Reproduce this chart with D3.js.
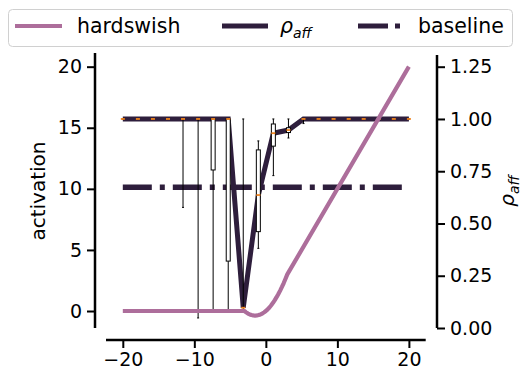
<!DOCTYPE html>
<html>
<head>
<meta charset="utf-8">
<script src="https://cdn.jsdelivr.net/npm/d3@7"></script>
<style>
  body { margin: 0; background: #fff; }
  text { font-family: "DejaVu Sans", sans-serif; fill: #000; }
</style>
</head>
<body>
<svg id="chart" width="532" height="383"></svg>
<script>
// hardswish curve (left axis)
var hsX = [-20, -3, -2.75, -2.5, -2.25, -2, -1.75, -1.5, -1.25, -1, -0.75, -0.5, -0.25, 0,
           0.25, 0.5, 0.75, 1, 1.25, 1.5, 1.75, 2, 2.25, 2.5, 2.75, 3, 20];
var hsY = [0, 0, -0.11, -0.21, -0.28, -0.33, -0.36, -0.375, -0.36, -0.33, -0.28, -0.21, -0.11, 0,
           0.135, 0.29, 0.47, 0.67, 0.89, 1.13, 1.39, 1.67, 1.97, 2.29, 2.64, 3, 20];

// rho_aff boxplots (right axis), one per position
var boxPos = [-20, -17.89, -15.79, -13.68, -11.58, -9.47, -7.37, -5.26, -3.16, -1.05,
              1.05, 3.16, 5.26, 7.37, 9.47, 11.58, 13.68, 15.79, 17.89, 20];
var medians = [1, 1, 1, 1, 1, 1, 1, 1, 0.097, 0.636, 0.932, 0.947, 1, 1, 1, 1, 1, 1, 1, 1];
var q1s     = [1, 1, 1, 1, 1, 1, 0.756, 0.32, 0.097, 0.461, 0.87, 0.935, 1, 1, 1, 1, 1, 1, 1, 1];
var q3s     = [1, 1, 1, 1, 1, 1, 1, 1, 0.097, 0.852, 0.976, 0.958, 1, 1, 1, 1, 1, 1, 1, 1];
var whisLo  = [1, 1, 1, 1, 0.577, 0.048, 0.086, 0.08, 0.08, 0.381, 0.729, 0.909, 0.978, 1, 1, 1, 1, 1, 1, 1];
var whisHi  = [1, 1, 1, 1, 1, 1, 1, 1, 1, 0.895, 1, 1, 1, 1, 1, 1, 1, 1, 1, 1];

// baseline level (right axis)
var baseX = [-20, 20];
var baseVal = 0.673;

var xTicks = [-20, -10, 0, 10, 20];
var yTicks = [0, 5, 10, 15, 20];
var y2Ticks = [0, 0.25, 0.5, 0.75, 1.0, 1.25];

// colours
var hsColour = '#ad6e9b';
var rhoColour = '#2e1e3c';
var medianColour = '#ef8420';

var svg = d3.select("#chart");

var x = d3.scaleLinear().domain([-22.35, 22.35]).range([106, 425.7]);
var y = d3.scaleLinear().domain([-1.39, 21.12]).range([328, 53]);
var y2 = d3.scaleLinear().domain([0, 1.306]).range([328, 55]);

var tickFont = 19;

// axes (spines offset outward)
var xAxis = svg.append("g").attr("transform", "translate(0,340)")
  .call(d3.axisBottom(x).tickValues(xTicks).tickSize(8).tickPadding(5)
    .tickFormat(function (d) { return d < 0 ? "\u2212" + Math.abs(d) : d; }));
var yAxis = svg.append("g").attr("transform", "translate(95,0)")
  .call(d3.axisLeft(y).tickValues(yTicks).tickSize(8).tickPadding(5));
var y2Axis = svg.append("g").attr("transform", "translate(437,0)")
  .call(d3.axisRight(y2).tickValues(y2Ticks).tickSize(8).tickPadding(5)
    .tickFormat(d3.format(".2f")));

[xAxis, yAxis, y2Axis].forEach(function (g) {
  g.select(".domain").attr("stroke", "#000").attr("stroke-width", 2.5);
  g.selectAll(".tick line").attr("stroke", "#000").attr("stroke-width", 2);
  g.selectAll(".tick text").attr("font-size", tickFont)
    .style("font-family", "DejaVu Sans, sans-serif").attr("fill", "#000");
});
// spines without end caps
xAxis.select(".domain").attr("d", "M" + x.range()[0] + ",0H" + x.range()[1]);
yAxis.select(".domain").attr("d", "M0," + y.range()[0] + "V" + y.range()[1]);
y2Axis.select(".domain").attr("d", "M0," + y2.range()[0] + "V" + y2.range()[1]);

// axis labels
svg.append("text")
  .attr("transform", "translate(45,191) rotate(-90)")
  .attr("text-anchor", "middle")
  .attr("font-size", 20)
  .text("activation");

var rlab = svg.append("text")
  .attr("transform", "translate(514,191) rotate(-90)")
  .attr("text-anchor", "middle")
  .attr("font-size", 20)
  .style("font-style", "italic");
rlab.append("tspan").text("\u03c1");
rlab.append("tspan").attr("font-size", 14).attr("dy", 5).text("aff");

// baseline, dash-dot
svg.append("path")
  .datum(baseX)
  .attr("d", d3.line().x(function (d) { return x(d); }).y(function () { return y2(baseVal); }))
  .attr("fill", "none")
  .attr("stroke", rhoColour)
  .attr("stroke-width", 5.5)
  .attr("stroke-dasharray", "29,8,5,8");

// rho_aff median line
var rhoLine = d3.line()
  .x(function (d, i) { return x(boxPos[i]); })
  .y(function (d) { return y2(d); });
svg.append("path")
  .datum(medians)
  .attr("d", rhoLine)
  .attr("fill", "none")
  .attr("stroke", rhoColour)
  .attr("stroke-width", 5)
  .attr("stroke-linejoin", "miter");

// boxplots
var bw = 0.56;
var boxes = svg.append("g").selectAll("g")
  .data(boxPos)
  .enter().append("g");

boxes.append("line")
  .attr("x1", function (d) { return x(d); })
  .attr("x2", function (d) { return x(d); })
  .attr("y1", function (d, i) { return y2(whisLo[i]); })
  .attr("y2", function (d, i) { return y2(q1s[i]); })
  .attr("stroke", "#000").attr("stroke-width", 1);
boxes.append("line")
  .attr("x1", function (d) { return x(d); })
  .attr("x2", function (d) { return x(d); })
  .attr("y1", function (d, i) { return y2(q3s[i]); })
  .attr("y2", function (d, i) { return y2(whisHi[i]); })
  .attr("stroke", "#000").attr("stroke-width", 1);
[whisLo, whisHi].forEach(function (arr) {
  boxes.append("line")
    .attr("x1", function (d) { return x(d - bw / 4); })
    .attr("x2", function (d) { return x(d + bw / 4); })
    .attr("y1", function (d, i) { return y2(arr[i]); })
    .attr("y2", function (d, i) { return y2(arr[i]); })
    .attr("stroke", "#000").attr("stroke-width", 1);
});
boxes.filter(function (d, i) { return q3s[i] > q1s[i]; })
  .append("rect")
  .attr("x", function (d) { return x(d - bw / 2); })
  .attr("width", function (d) { return x(d + bw / 2) - x(d - bw / 2); })
  .attr("y", function (d) { return y2(q3s[boxPos.indexOf(d)]); })
  .attr("height", function (d) { var i = boxPos.indexOf(d); return y2(q1s[i]) - y2(q3s[i]); })
  .attr("fill", "#fff")
  .attr("stroke", "#000").attr("stroke-width", 1);
boxes.append("line")
  .attr("x1", function (d) { return x(d - bw / 2); })
  .attr("x2", function (d) { return x(d + bw / 2); })
  .attr("y1", function (d, i) { return y2(medians[i]); })
  .attr("y2", function (d, i) { return y2(medians[i]); })
  .attr("stroke", medianColour).attr("stroke-width", 1.8);

// hardswish
svg.append("path")
  .datum(hsX)
  .attr("d", d3.line()
    .x(function (d) { return x(d); })
    .y(function (d, i) { return y(hsY[i]); }))
  .attr("fill", "none")
  .attr("stroke", hsColour)
  .attr("stroke-width", 4.2)
  .attr("stroke-linejoin", "round");

// legend
var legend = svg.append("g");
legend.append("rect")
  .attr("x", 8.5).attr("y", 9.5).attr("width", 504).attr("height", 37).attr("rx", 4)
  .attr("fill", "#fff").attr("stroke", "#d0d0d0").attr("stroke-width", 1);

var legItems = [
  { label: "hardswish", colour: hsColour, dash: null, x0: 15, x1: 62, tx: 77 },
  { label: "rho", colour: rhoColour, dash: null, x0: 222, x1: 268, tx: 280 },
  { label: "baseline", colour: rhoColour, dash: "30,7,5,8", x0: 358, x1: 405, tx: 418 }
];
legItems.forEach(function (d) {
  legend.append("line")
    .attr("x1", d.x0).attr("x2", d.x1).attr("y1", 26).attr("y2", 26)
    .attr("stroke", d.colour)
    .attr("stroke-width", d.label === "hardswish" ? 4.2 : 5)
    .attr("stroke-dasharray", d.dash);
  var t = legend.append("text").attr("x", d.tx).attr("y", 33).attr("font-size", 20.5);
  if (d.label === "rho") {
    t.style("font-style", "italic");
    t.append("tspan").text("\u03c1");
    t.append("tspan").attr("font-size", 14).attr("dy", 5).text("aff");
  } else {
    t.text(d.label);
  }
});
</script>
</body>
</html>
